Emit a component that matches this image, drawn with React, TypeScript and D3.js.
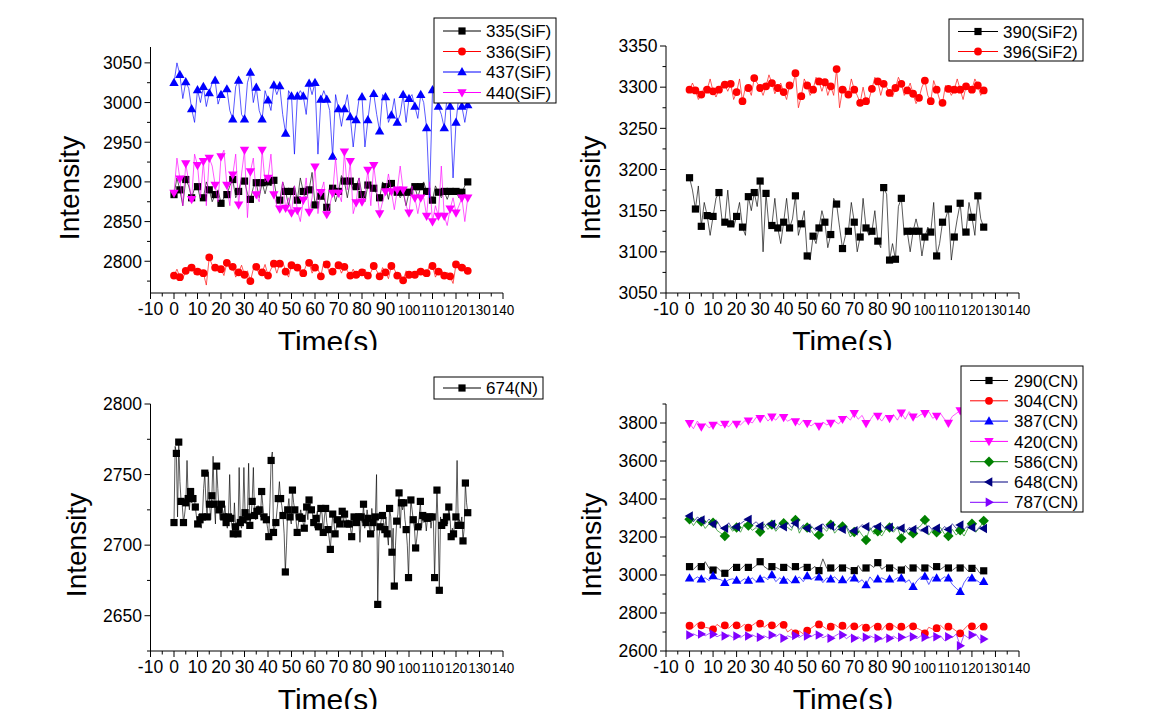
import React from 'react';
import * as d3 from 'd3';

// ---------- tick labels ----------
const timeTickLabels = [-10, 0, 10, 20, 30, 40, 50, 60, 70, 80, 90, 100, 110, 120, 130, 140];

// ---------- panel 1 : SiF (t step 1.25 s, marker every 2nd point) ----------
const sif335 = [
  2884,2905,2890,2870,2903,2895,2880,2892,2894,2878,
  2880,2900,2890,2875,2884,2890,2873,2880,2884,2895,
  2903,2880,2888,2905,2901,2885,2878,2893,2899,2880,
  2899,2885,2900,2895,2902,2880,2877,2900,2888,2870,
  2888,2895,2877,2905,2888,2878,2890,2912,2871,2885,
  2882,2880,2868,2895,2892,2875,2888,2908,2901,2880,
  2901,2890,2894,2905,2884,2875,2896,2890,2892,2885,
  2880,2900,2894,2878,2898,2895,2887,2880,2887,2870,
  2887,2895,2894,2880,2894,2900,2888,2885,2877,2895,
  2887,2880,2888,2878,2888,2890,2888,2880,2887,2895,
  2900,
];
const sif336 = [
  2782,2790,2780,2778,2788,2795,2792,2783,2787,2790,
  2785,2770,2805,2795,2792,2788,2790,2782,2798,2790,
  2793,2780,2786,2795,2783,2788,2775,2790,2793,2783,
  2786,2796,2782,2790,2797,2785,2797,2800,2787,2780,
  2795,2790,2792,2786,2785,2795,2798,2785,2792,2790,
  2781,2800,2796,2784,2787,2790,2795,2785,2793,2788,
  2782,2790,2783,2780,2786,2790,2782,2786,2794,2788,
  2781,2792,2786,2778,2794,2790,2782,2785,2776,2788,
  2783,2782,2783,2790,2787,2782,2785,2795,2794,2780,
  2787,2790,2782,2786,2781,2772,2796,2790,2792,2795,
  2788,
];
const sif437 = [
  3025,3050,3035,3005,3026,3018,2992,2975,3016,3000,
  3020,2995,3012,3025,3028,2998,3010,3015,3017,2990,
  2979,3020,3028,2985,2979,3025,3038,3000,3019,2990,
  2979,3015,3003,2990,3022,3010,3021,2985,2961,3015,
  3008,2935,3008,3015,3008,2985,3024,3010,3025,2935,
  3004,3015,3004,2990,2932,3010,2992,2970,2992,3010,
  2982,2944,2978,3005,3007,2944,2978,3008,3011,2985,
  2964,3010,3007,2975,2984,3005,2975,2985,3010,2975,
  3005,3010,2995,2980,3010,3000,2968,2880,3016,3015,
  2995,2985,2968,3010,2995,2905,2975,3010,2995,2975,
  2997,
];
const sif440 = [
  2886,2930,2904,2870,2923,2900,2878,2935,2921,2880,
  2926,2870,2930,2920,2896,2875,2932,2940,2896,2870,
  2909,2935,2871,2910,2940,2855,2913,2930,2884,2875,
  2940,2900,2905,2935,2884,2870,2866,2900,2867,2880,
  2861,2895,2864,2850,2877,2905,2862,2880,2919,2860,
  2887,2900,2859,2870,2886,2930,2886,2875,2938,2890,
  2926,2860,2874,2905,2875,2885,2915,2870,2921,2890,
  2860,2875,2888,2910,2888,2865,2890,2920,2890,2870,
  2861,2895,2880,2860,2880,2880,2857,2900,2850,2870,
  2857,2920,2857,2845,2866,2880,2861,2870,2880,2850,
  2880,
];

// ---------- panel 2 : SiF2 (t step 1.25 s, marker every 2nd point) ----------
const sif2_390 = [
  3190,3175,3152,3180,3131,3160,3144,3120,3143,3165,
  3172,3140,3136,3175,3134,3130,3143,3160,3130,3120,
  3167,3150,3172,3155,3186,3100,3171,3130,3132,3165,
  3129,3110,3136,3165,3129,3140,3168,3120,3134,3150,
  3095,3090,3119,3110,3129,3150,3136,3105,3121,3165,
  3158,3130,3104,3120,3125,3160,3136,3100,3118,3165,
  3129,3120,3125,3150,3113,3105,3178,3170,3090,3110,
  3091,3155,3165,3120,3125,3100,3125,3140,3125,3095,
  3118,3130,3124,3160,3095,3110,3136,3140,3152,3090,
  3118,3140,3159,3120,3124,3160,3142,3120,3168,3140,
  3130,
];
const sif2_396 = [
  3297,3305,3296,3285,3291,3300,3297,3310,3295,3288,
  3297,3305,3303,3295,3304,3285,3294,3310,3283,3300,
  3299,3290,3311,3305,3299,3290,3301,3315,3305,3292,
  3299,3305,3294,3285,3302,3300,3317,3275,3289,3310,
  3302,3290,3297,3312,3307,3295,3306,3290,3301,3290,
  3322,3275,3297,3300,3291,3310,3297,3290,3281,3300,
  3283,3285,3298,3312,3307,3290,3304,3300,3293,3288,
  3299,3312,3304,3290,3296,3305,3292,3280,3287,3300,
  3308,3290,3283,3308,3297,3285,3281,3302,3298,3290,
  3297,3310,3297,3285,3301,3300,3297,3310,3302,3290,
  3296,
];

// ---------- panel 3 : N (t step ~0.5 s, marker every 2nd point) ----------
const n674 = [
  2716,2770,2765,2720,2773,2745,2731,2728,2716,2722,2730,2760,2733,2725,2738,2730,2733,2735,2727,2720,
  2715,2722,2718,2712,2720,2740,2751,2730,2720,2752,2729,2718,2735,2763,2729,2715,2756,2740,2725,2718,
  2729,2725,2720,2728,2716,2712,2720,2750,2719,2712,2708,2730,2713,2716,2708,2755,2716,2712,2718,2755,
  2723,2715,2720,2758,2714,2720,2731,2755,2721,2718,2724,2728,2725,2720,2738,2728,2720,2722,2718,2712,
  2706,2730,2760,2766,2709,2712,2716,2725,2733,2745,2733,2728,2721,2708,2681,2700,2725,2733,2720,2715,
  2739,2730,2725,2718,2709,2715,2720,2725,2719,2716,2712,2720,2727,2718,2732,2730,2725,2722,2716,2712,
  2719,2724,2713,2718,2726,2722,2709,2720,2726,2716,2711,2705,2697,2710,2722,2716,2708,2712,2718,2720,
  2715,2718,2724,2716,2722,2720,2715,2718,2715,2712,2706,2716,2720,2714,2716,2722,2720,2702,2720,2716,
  2729,2712,2716,2725,2719,2712,2708,2726,2716,2710,2720,2750,2658,2705,2713,2718,2721,2716,2711,2720,
  2708,2700,2726,2720,2695,2712,2671,2700,2717,2722,2737,2712,2730,2725,2730,2718,2711,2700,2677,2710,
  2732,2725,2718,2712,2698,2705,2713,2720,2731,2712,2721,2716,2720,2710,2719,2722,2720,2712,2720,2718,
  2677,2710,2739,2715,2668,2720,2714,2712,2716,2718,2720,2715,2727,2720,2706,2712,2708,2716,2720,2760,
  2714,2718,2714,2720,2703,2712,2744,2730,2723,
];

// ---------- panel 4 : CN (t step 5/3 s, marker every 3rd point) ----------
const cn290 = [
  3044,3030,3050, 3044,3070,3035, 3026,3040,3020, 3009,3025,3045, 3040,3030,3050,
  3040,3035,3050, 3070,3045,3030, 3044,3040,3030, 3040,3050,3035, 3044,3035,3045,
  3040,3030,3045, 3023,3085,3035, 3037,3025,3045, 3037,3040,3030, 3023,3050,3020,
  3037,3055,3040, 3065,3030,3045, 3037,3040,3025, 3026,3050,3030, 3037,3045,3025,
  3037,3050,3035, 3044,3030,3045, 3037,3025,3040, 3037,3045,3020, 3035,3040,3010,
  3022,
];
const cn304 = [
  2733,2725,2745, 2735,2725,2720, 2714,2740,2725, 2735,2720,2740, 2735,2725,2740,
  2723,2735,2750, 2744,2725,2740, 2735,2725,2745, 2738,2700,2715, 2693,2705,2690,
  2707,2720,2735, 2740,2730,2715, 2728,2740,2725, 2733,2715,2735, 2730,2725,2740,
  2723,2720,2735, 2728,2710,2735, 2728,2735,2720, 2728,2720,2735, 2730,2720,2710,
  2693,2725,2715, 2720,2735,2715, 2728,2720,2705, 2693,2715,2735, 2730,2715,2735,
  2728,
];
const cn387 = [
  2983,2975,2990, 2978,2985,2970, 2995,2980,2975, 2960,2975,2980, 2971,2965,2980,
  2971,2985,2965, 2978,2990,2975, 3000,2965,2985, 2971,2980,2960, 2974,2990,2965,
  2995,2975,2990, 2988,2960,2985, 2978,2990,2970, 2974,2965,2990, 2983,2960,2975,
  2947,2990,2965, 2978,2985,2975, 2978,2970,2985, 2983,2960,2975, 2938,2970,2990,
  2992,2950,2990, 2983,2975,2990, 2983,2950,2930, 2912,2960,2990, 2983,2975,2960,
  2965,
];
const cn420 = [
  3798,3770,3810, 3780,3795,3775, 3789,3800,3785, 3795,3780,3805, 3795,3790,3810,
  3812,3800,3830, 3825,3840,3810, 3833,3815,3840, 3830,3810,3820, 3807,3790,3815,
  3798,3785,3800, 3784,3805,3790, 3800,3810,3795, 3820,3835,3815, 3851,3820,3840,
  3798,3815,3845, 3837,3810,3840, 3825,3845,3815, 3854,3820,3860, 3833,3830,3845,
  3851,3860,3825, 3837,3850,3820, 3800,3835,3850, 3865,3830,3855, 3840,3835,3860,
  3850,
];
const cn586 = [
  3293,3260,3290, 3281,3245,3270, 3275,3235,3220, 3205,3260,3230, 3250,3225,3270,
  3260,3235,3250, 3228,3270,3240, 3265,3230,3255, 3272,3250,3235, 3290,3220,3260,
  3250,3235,3205, 3211,3250,3230, 3265,3220,3245, 3255,3250,3200, 3226,3240,3210,
  3184,3250,3215, 3230,3205,3240, 3250,3225,3250, 3193,3240,3210, 3219,3245,3260,
  3290,3210,3240, 3225,3250,3215, 3205,3240,3210, 3235,3205,3245, 3270,3225,3250,
  3285,
];
const cn648 = [
  3311,3280,3305, 3290,3270,3295, 3268,3285,3250, 3246,3275,3240, 3254,3270,3285,
  3293,3265,3280, 3258,3250,3275, 3268,3240,3270, 3254,3275,3250, 3272,3240,3265,
  3246,3260,3235, 3246,3270,3245, 3258,3235,3260, 3240,3255,3225, 3233,3245,3265,
  3254,3235,3260, 3254,3265,3240, 3251,3235,3255, 3246,3225,3250, 3240,3250,3230,
  3237,3260,3235, 3246,3230,3255, 3240,3270,3245, 3263,3240,3260, 3250,3230,3255,
  3245,
];
const cn787 = [
  2684,2690,2680, 2689,2680,2692, 2688,2675,2685, 2679,2685,2672, 2679,2670,2685,
  2679,2685,2675, 2672,2680,2670, 2684,2675,2690, 2667,2680,2672, 2681,2672,2685,
  2679,2675,2688, 2684,2670,2680, 2667,2678,2690, 2684,2665,2680, 2667,2675,2660,
  2672,2680,2670, 2667,2660,2675, 2667,2678,2665, 2672,2670,2680, 2675,2665,2680,
  2672,2668,2678, 2675,2680,2655, 2675,2670,2690, 2628,2685,2670, 2684,2690,2660,
  2663,
];

// ---------- styles ----------
const FONT = 'Liberation Sans, Arial, Helvetica, sans-serif';
const MARK: Record<string, string> = {
  square: 'M-3.6,-3.6H3.6V3.6H-3.6Z',
  circle: 'M3.9,0A3.9,3.9 0 1 1 -3.9,0A3.9,3.9 0 1 1 3.9,0Z',
  up: 'M0,-4.9L4.7,3.3L-4.7,3.3Z',
  down: 'M0,4.9L4.7,-3.3L-4.7,-3.3Z',
  left: 'M-4.9,0L3.3,-4.7L3.3,4.7Z',
  right: 'M4.9,0L-3.3,-4.7L-3.3,4.7Z',
  diamond: 'M0,-5.2L5.2,0L0,5.2L-5.2,0Z',
};

type Series = { name: string; values: number[]; color: string; shape: string };
type PanelCfg = {
  left: number; right: number; top: number; bottom: number;
  yDomain: [number, number]; yMajorStart: number; yStep: number;
  step: number; every: number; series: Series[];
  legend: { x: number; y: number; w: number; h: number; row0: number; dy: number; lx1: number; lx2: number; tx: number };
  ylab: { x: number; y: number }; xlab: { x: number; y: number; clipTop: number; clipBottom: number };
};

const panels: PanelCfg[] = [
  {
    left: 150.5, right: 503, top: 47, bottom: 293, yDomain: [2760, 3070], yMajorStart: 2800, yStep: 50,
    step: 1.25, every: 2,
    series: [
      { name: '335(SiF)', values: sif335, color: '#000000', shape: 'square' },
      { name: '336(SiF)', values: sif336, color: '#ff0000', shape: 'circle' },
      { name: '437(SiF)', values: sif437, color: '#0000ff', shape: 'up' },
      { name: '440(SiF)', values: sif440, color: '#ff00ff', shape: 'down' },
    ],
    legend: { x: 434, y: 18, w: 122, h: 85, row0: 31, dy: 20.5, lx1: 443, lx2: 481, tx: 486 },
    ylab: { x: 78.5, y: 188 }, xlab: { x: 328, y: 352, clipTop: 0, clipBottom: 350 },
  },
  {
    left: 666, right: 1019, top: 46, bottom: 293, yDomain: [3050, 3350], yMajorStart: 3050, yStep: 50,
    step: 1.25, every: 2,
    series: [
      { name: '390(SiF2)', values: sif2_390, color: '#000000', shape: 'square' },
      { name: '396(SiF2)', values: sif2_396, color: '#ff0000', shape: 'circle' },
    ],
    legend: { x: 949, y: 19, w: 134, h: 42, row0: 31.5, dy: 20, lx1: 958, lx2: 998, tx: 1003 },
    ylab: { x: 600, y: 188 }, xlab: { x: 842.5, y: 352, clipTop: 0, clipBottom: 350 },
  },
  {
    left: 150.5, right: 503, top: 404, bottom: 651, yDomain: [2625, 2800], yMajorStart: 2650, yStep: 50,
    step: 125 / 248, every: 2,
    series: [{ name: '674(N)', values: n674, color: '#000000', shape: 'square' }],
    legend: { x: 434, y: 377, w: 109, h: 22, row0: 388, dy: 20, lx1: 443, lx2: 481, tx: 486 },
    ylab: { x: 85.5, y: 545 }, xlab: { x: 328, y: 710, clipTop: 360, clipBottom: 709 },
  },
  {
    left: 666, right: 1019, top: 404, bottom: 651, yDomain: [2600, 3900], yMajorStart: 2600, yStep: 200,
    step: 5 / 3, every: 3,
    series: [
      { name: '290(CN)', values: cn290, color: '#000000', shape: 'square' },
      { name: '304(CN)', values: cn304, color: '#ff0000', shape: 'circle' },
      { name: '387(CN)', values: cn387, color: '#0000ff', shape: 'up' },
      { name: '420(CN)', values: cn420, color: '#ff00ff', shape: 'down' },
      { name: '586(CN)', values: cn586, color: '#008000', shape: 'diamond' },
      { name: '648(CN)', values: cn648, color: '#000080', shape: 'left' },
      { name: '787(CN)', values: cn787, color: '#8000ff', shape: 'right' },
    ],
    legend: { x: 961, y: 366, w: 122, h: 146, row0: 380.5, dy: 20.3, lx1: 970, lx2: 1008, tx: 1014 },
    ylab: { x: 600.5, y: 545 }, xlab: { x: 843, y: 710, clipTop: 360, clipBottom: 709 },
  },
];

function Panel({ p, idx }: { p: PanelCfg; idx: number }) {
  const x = d3.scaleLinear().domain([-10, 140]).range([p.left, p.right]);
  const y = d3.scaleLinear().domain(p.yDomain).range([p.bottom, p.top]);
  const yMajors = d3.range(p.yMajorStart, p.yDomain[1] + 1e-6, p.yStep);
  const yMinors = d3.range(p.yMajorStart - p.yStep / 2, p.yDomain[1] + 1e-6, p.yStep).filter(v => v >= p.yDomain[0] - 1e-6);
  const xMinors = d3.range(-5, 140, 10);
  const line = d3.line<number>().x((_, i) => x(i * p.step)).y(d => y(d));
  const L = p.legend;
  return (
    <g>
      {p.series.map(s => (
        <g key={s.name}>
          <path d={line(s.values) || ''} fill="none" stroke={s.color} strokeWidth={0.9} strokeOpacity={0.72} />
          {s.values.map((v, i) => (i % p.every === 0 ? (
            <path key={i} d={MARK[s.shape]} transform={`translate(${x(i * p.step)},${y(v)})`} fill={s.color} />
          ) : null))}
        </g>
      ))}
      {/* axes */}
      <line x1={p.left} x2={p.left} y1={p.top} y2={p.bottom} stroke="#000" strokeWidth={1} />
      <line x1={p.left} x2={p.right} y1={p.bottom} y2={p.bottom} stroke="#000" strokeWidth={1} />
      {yMajors.map(v => (
        <g key={'ym' + v}>
          <line x1={p.left - 6} x2={p.left} y1={y(v)} y2={y(v)} stroke="#000" strokeWidth={1} />
          <text x={p.left - 8.5} y={y(v)} dy="0.36em" textAnchor="end" fontSize={17.5} fontFamily={FONT}>{v}</text>
        </g>
      ))}
      {yMinors.map(v => (
        <line key={'yn' + v} x1={p.left - 3.5} x2={p.left} y1={y(v)} y2={y(v)} stroke="#000" strokeWidth={1} />
      ))}
      {timeTickLabels.map(v => (
        <g key={'xm' + v}>
          <line x1={x(v)} x2={x(v)} y1={p.bottom} y2={p.bottom + 6} stroke="#000" strokeWidth={1} />
          {v >= 100 ? (
            <text x={x(v)} y={p.bottom + 22} textAnchor="middle" fontSize={14} fontFamily={FONT}
              textLength={22.5} lengthAdjust="spacingAndGlyphs">{v}</text>
          ) : (
            <text x={x(v)} y={p.bottom + 22} textAnchor="middle" fontSize={17.5} fontFamily={FONT}>{v}</text>
          )}
        </g>
      ))}
      {xMinors.map(v => (
        <line key={'xn' + v} x1={x(v)} x2={x(v)} y1={p.bottom} y2={p.bottom + 3.5} stroke="#000" strokeWidth={1} />
      ))}
      {/* axis titles */}
      <text transform={`translate(${p.ylab.x},${p.ylab.y}) rotate(-90)`} textAnchor="middle" fontSize={28} fontFamily={FONT}>Intensity</text>
      <clipPath id={'tclip' + idx}>
        <rect x={0} y={p.xlab.clipTop} width={1167} height={p.xlab.clipBottom - p.xlab.clipTop} />
      </clipPath>
      <text x={p.xlab.x} y={p.xlab.y} textAnchor="middle" fontSize={30} fontFamily={FONT} clipPath={`url(#tclip${idx})`}>Time(s)</text>
      {/* legend */}
      <rect x={L.x} y={L.y} width={L.w} height={L.h} fill="#fff" stroke="#000" strokeWidth={1} />
      {p.series.map((s, k) => {
        const ry = L.row0 + k * L.dy;
        return (
          <g key={'lg' + s.name}>
            <line x1={L.lx1} x2={L.lx2} y1={ry} y2={ry} stroke={s.color} strokeWidth={1} />
            <path d={MARK[s.shape]} transform={`translate(${(L.lx1 + L.lx2) / 2},${ry})`} fill={s.color} />
            <text x={L.tx} y={ry} dy="0.36em" fontSize={17} fontFamily={FONT}>{s.name}</text>
          </g>
        );
      })}
    </g>
  );
}

export default function App() {
  return (
    <svg width={1167} height={721} style={{ position: 'absolute', left: 0, top: 0, background: '#fff' }}>
      <rect x={0} y={0} width={1167} height={721} fill="#fff" />
      {panels.map((p, i) => <Panel key={i} p={p} idx={i} />)}
    </svg>
  );
}
